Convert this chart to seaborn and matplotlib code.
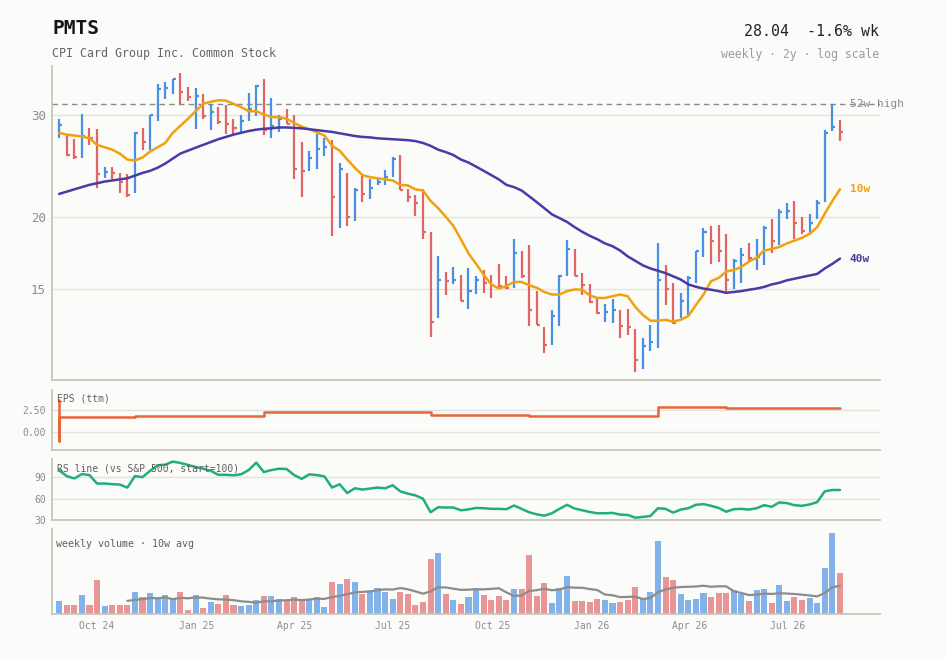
import matplotlib
matplotlib.use('Agg')
import matplotlib.pyplot as plt
import matplotlib.dates as mdates
import matplotlib.ticker as mticker
import numpy as np
import pandas as pd
import seaborn as sns

### Data (weekly bars) ###
first_week = '2024-08-27'
ticker = 'PMTS'
company = 'CPI Card Group Inc. Common Stock'

highs = [29.5, 27.7, 27.2, 30.1, 28.4, 28.3, 24.4, 24.4, 23.8, 23.7,
         28.0, 28.4, 30.0, 33.8, 34.1, 34.6, 35.3, 33.5, 33.3, 32.5,
         31.3, 30.9, 31.1, 29.5, 30.0, 32.7, 33.7, 34.5, 32.0, 30.0,
         30.7, 30.0, 26.9, 26.0, 27.8, 27.3, 27.1, 24.8, 23.8, 22.4,
         23.5, 23.2, 23.2, 24.1, 25.4, 25.6, 22.3, 21.8, 22.3, 18.8,
         17.1, 16.1, 16.4, 15.9, 16.3, 15.85, 16.2, 15.9, 16.6, 15.8,
         18.3, 17.5, 17.9, 14.9, 12.9, 13.8, 15.9, 18.25, 17.6, 16.0,
         15.3, 14.55, 14.15, 14.45, 13.8, 13.9, 12.8, 12.35, 13.05, 18.0,
         16.5, 15.4, 14.8, 15.8, 17.5, 19.1, 19.3, 19.4, 18.7, 16.9,
         17.7, 18.06, 18.3, 19.3, 19.8, 20.6, 21.1, 21.3, 20.0, 20.2,
         21.4, 28.2, 31.3, 29.4]

lows = [27.3, 25.5, 25.2, 25.3, 26.6, 22.4, 23.3, 23.2, 22.0, 21.6,
        22.0, 26.1, 26.1, 29.2, 31.9, 32.5, 31.3, 31.6, 28.3, 29.5,
        28.2, 28.9, 27.8, 27.8, 28.0, 29.2, 29.8, 27.7, 27.3, 28.0,
        28.9, 23.2, 21.6, 23.95, 24.2, 25.5, 18.5, 19.1, 19.3, 19.7,
        21.2, 21.5, 22.7, 22.7, 23.4, 22.2, 21.2, 20.1, 18.3, 12.4,
        13.4, 14.7, 15.3, 14.3, 13.9, 14.75, 14.8, 14.5, 15.1, 15.05,
        15.1, 15.7, 13.0, 13.05, 11.65, 12.05, 13.0, 15.8, 15.8, 14.7,
        14.2, 13.6, 13.2, 13.15, 12.35, 12.5, 10.8, 10.95, 11.75, 11.9,
        14.1, 13.1, 13.4, 13.55, 15.4, 17.05, 16.6, 16.75, 14.85, 15.0,
        15.4, 16.8, 16.2, 16.5, 17.3, 17.9, 19.8, 18.3, 18.7, 18.6,
        19.8, 21.2, 28.1, 27.0]

closes = [28.8, 25.6, 25.4, 27.6, 27.3, 23.7, 23.9, 23.8, 23.0, 21.8,
          27.9, 26.9, 29.9, 33.2, 33.3, 34.5, 32.8, 32.1, 32.3, 29.8,
          30.3, 29.1, 28.9, 28.4, 29.2, 30.7, 33.6, 28.2, 28.7, 29.5,
          28.9, 24.2, 24.0, 25.3, 26.2, 26.4, 21.6, 24.2, 20.0, 22.2,
          21.9, 22.4, 23.0, 23.4, 25.2, 22.2, 21.6, 21.1, 18.8, 13.2,
          15.6, 15.5, 15.6, 14.3, 14.9, 15.6, 15.4, 15.28, 15.2, 15.08,
          17.3, 15.8, 13.8, 13.05, 12.05, 13.5, 15.85, 17.6, 15.8, 15.25,
          14.25, 13.68, 13.74, 13.8, 13.0, 12.9, 11.35, 12.0, 12.2, 15.55,
          15.0, 13.15, 14.3, 15.7, 17.45, 18.8, 18.2, 17.44, 15.6, 16.76,
          17.2, 16.96, 17.06, 19.1, 18.2, 20.35, 20.45, 19.5, 18.9, 19.5,
          21.1, 27.9, 28.5, 28.04]

ma10 = [27.9, 27.7, 27.6, 27.5, 27.3, 26.6, 26.35, 26.1, 25.7, 25.1,
        25.0, 25.3, 25.9, 26.35, 26.8, 27.9, 28.7, 29.5, 30.4, 31.3,
        31.55, 31.75, 31.7, 31.3, 30.9, 30.4, 30.4, 30.0, 29.7, 29.7,
        29.5, 29.0, 28.6, 28.3, 27.96, 27.6, 26.5, 26.0, 25.1, 24.3,
        23.6, 23.4, 23.3, 23.2, 23.1, 22.7, 22.65, 22.3, 22.2, 21.3,
        20.7, 20.0, 19.3, 18.3, 17.3, 16.6, 15.9, 15.3, 15.05, 15.2,
        15.45, 15.45, 15.25, 15.1, 14.85, 14.7, 14.7, 14.9, 15.0, 14.98,
        14.65, 14.5, 14.5, 14.6, 14.7, 14.6, 14.0, 13.56, 13.25, 13.25,
        13.3, 13.2, 13.3, 13.5, 14.1, 14.7, 15.5, 15.7, 16.1, 16.2,
        16.4, 16.75, 17.0, 17.5, 17.6, 17.75, 18.0, 18.2, 18.4, 18.7,
        19.2, 20.25, 21.3, 22.3]

ma40 = [21.9, 22.1, 22.3, 22.5, 22.7, 22.85, 23.0, 23.1, 23.2, 23.3,
        23.55, 23.8, 24.0, 24.3, 24.7, 25.2, 25.7, 26.0, 26.3, 26.6,
        26.9, 27.2, 27.45, 27.7, 27.9, 28.1, 28.25, 28.35, 28.4, 28.5,
        28.5, 28.45, 28.4, 28.3, 28.2, 28.1, 28.0, 27.85, 27.7, 27.55,
        27.45, 27.4, 27.3, 27.25, 27.2, 27.15, 27.1, 27.0, 26.8, 26.5,
        26.1, 25.85, 25.55, 25.1, 24.8, 24.4, 24.0, 23.6, 23.2, 22.7,
        22.5, 22.2, 21.7, 21.2, 20.7, 20.2, 19.9, 19.6, 19.2, 18.85,
        18.55, 18.3, 18.0, 17.8, 17.5, 17.1, 16.8, 16.5, 16.3, 16.15,
        16.0, 15.8, 15.6, 15.3, 15.16, 15.05, 14.98, 14.9, 14.8, 14.85,
        14.9, 14.98, 15.05, 15.15, 15.3, 15.4, 15.55, 15.65, 15.75, 15.85,
        15.95, 16.3, 16.6, 16.95]

rs_line = [100, 91.9, 88.6, 94.7, 93.3, 81.4, 81.4, 80.5, 80.0, 75.7,
           91.9, 90.4, 99.4, 107.1, 108.0, 112.3, 110.4, 107.6, 104.7, 102.3,
           99.4, 93.7, 93.7, 93.0, 94.4, 100.4, 110.9, 97.6, 100.4, 102.3,
           101.9, 93.3, 88.0, 94.3, 93.3, 91.4, 75.7, 80.4, 68.0, 74.7,
           72.9, 74.3, 75.7, 74.7, 79.0, 70.4, 67.1, 64.7, 60.0, 40.9,
           48.0, 47.6, 47.6, 43.7, 45.0, 47.0, 46.6, 45.7, 45.7, 45.2,
           50.4, 45.7, 40.9, 38.0, 36.1, 39.5, 45.7, 51.4, 46.2, 43.7,
           41.3, 39.5, 39.5, 40.0, 37.6, 37.1, 33.3, 34.3, 35.7, 46.6,
           45.7, 40.4, 44.7, 46.6, 51.4, 52.4, 50.0, 47.0, 41.7, 45.2,
           45.7, 44.7, 46.6, 50.9, 48.6, 54.8, 53.8, 50.9, 50.0, 51.9,
           55.2, 70.4, 72.3, 72.3]

# weekly volume, thousands of shares
volume_k = [40, 28, 28, 58, 28, 103, 25, 28, 28, 28,
            67, 52, 64, 47, 58, 46, 67, 13, 58, 19,
            37, 31, 58, 28, 25, 28, 43, 55, 55, 46,
            43, 52, 43, 43, 52, 22, 97, 91, 106, 97,
            61, 67, 79, 67, 46, 67, 61, 28, 37, 166,
            184, 61, 43, 31, 52, 79, 58, 43, 55, 43,
            76, 76, 178, 55, 94, 34, 79, 115, 40, 40,
            37, 46, 43, 34, 37, 43, 82, 49, 67, 220,
            112, 103, 61, 43, 46, 64, 52, 64, 64, 73,
            61, 40, 73, 76, 34, 88, 40, 52, 43, 49,
            34, 139, 244, 124]

# EPS (ttm) change points: week index and value
eps_week = [0, 0, 0, 10, 27, 49, 62, 79, 88, 103]
eps_values = [3.62, -0.94, 1.75, 1.86, 2.27, 1.97, 1.86, 2.87, 2.72, 2.72]

price_ticks = [15, 20, 30]
eps_ticks = [0.0, 2.5]
rs_ticks = [30, 60, 90]

### Style ###
W, H = 946, 660
BG = '#fbfbf9'
UP = '#4a90e2'
DOWN = '#e06666'
MA10_C = '#f0a20e'
MA40_C = '#4b3aa6'
EPS_C = '#e8643a'
RS_C = '#1fae7c'
GRID_C = '#e3e3db'
SPINE_C = '#c6c6bb'
TICK_C = '#8c8c8c'
LABEL_C = '#5f5f5f'

sns.set_theme(style='white', rc={'axes.facecolor': BG, 'figure.facecolor': BG})
plt.rcParams['font.family'] = ['DejaVu Sans Mono']

dates = pd.date_range(first_week, periods=len(closes), freq='7D')
prev_close = pd.Series(closes).shift(1)
is_up = (pd.Series(closes) >= prev_close) | prev_close.isna()
bar_colors = np.where(is_up, UP, DOWN)
x_range = (dates[0] - pd.Timedelta(days=6.6), dates[0] + pd.Timedelta(days=758))

fig = plt.figure(figsize=(W / 100, H / 100), dpi=100)
fig.patch.set_facecolor(BG)


def panel(top, bottom):
    ax = fig.add_axes([52 / W, 1 - bottom / H, 828 / W, (bottom - top) / H])
    ax.set_facecolor(BG)
    for s in ['top', 'right']:
        ax.spines[s].set_visible(False)
    for s in ['left', 'bottom']:
        ax.spines[s].set_color(SPINE_C)
        ax.spines[s].set_linewidth(1.3)
    ax.tick_params(length=0, colors=TICK_C, labelsize=7, pad=4.5)
    return ax


ax_p = panel(66, 380)
ax_e = panel(390, 450)
ax_r = panel(459, 520)
ax_v = panel(529, 614)

### Price panel ###
ax_p.set_yscale('log')
ax_p.set_ylim(min(lows) * 0.97, max(highs) * 1.03)
ax_p.yaxis.set_major_locator(mticker.FixedLocator(price_ticks))
ax_p.yaxis.set_major_formatter(mticker.StrMethodFormatter('{x:.0f}'))
ax_p.yaxis.set_minor_locator(mticker.NullLocator())
ax_p.grid(axis='y', color=GRID_C, lw=1)
ax_p.tick_params(axis='y', labelsize=9)

hi52 = max(highs[-52:])
ax_p.axhline(hi52, color='#8a8a8a', lw=1, ls=(0, (4, 3)), zorder=1)

ax_p.vlines(dates, lows, highs, colors=bar_colors, lw=1.6, zorder=3)
ax_p.hlines(closes, dates, dates + pd.Timedelta(days=2.8), colors=bar_colors, lw=1.6, zorder=3)
sns.lineplot(x=dates, y=ma10, ax=ax_p, color=MA10_C, lw=1.8, zorder=4)
sns.lineplot(x=dates, y=ma40, ax=ax_p, color=MA40_C, lw=1.8, zorder=4)

for txt, val, col in [('10w', ma10[-1], MA10_C), ('40w', ma40[-1], MA40_C)]:
    ax_p.annotate(txt, xy=(dates[-1], val), xytext=(7, 0), textcoords='offset points',
                  va='center', ha='left', fontsize=8, color=col, fontweight='bold',
                  annotation_clip=False)
ax_p.annotate('52w high', xy=(dates[-1], hi52), xytext=(7, 0), textcoords='offset points',
              va='center', ha='left', fontsize=8, color='#8a8a8a', annotation_clip=False)
ax_p.tick_params(axis='x', labelbottom=False)

### EPS panel ###
eps_dates = dates[eps_week]
sns.lineplot(x=eps_dates, y=eps_values, ax=ax_e, color=EPS_C, lw=1.8,
             drawstyle='steps-post', estimator=None, sort=False)
ax_e.set_ylim(-2.0, 4.75)
ax_e.set_yticks(eps_ticks)
ax_e.yaxis.set_major_formatter(mticker.StrMethodFormatter('{x:.2f}'))
ax_e.grid(axis='y', color=GRID_C, lw=1)
ax_e.tick_params(axis='x', labelbottom=False)
ax_e.annotate('EPS (ttm)', xy=(0, 1), xycoords='axes fraction', xytext=(3.5, -6),
              textcoords='offset points', va='center', ha='left', fontsize=7, color=LABEL_C)

### RS panel ###
sns.lineplot(x=dates, y=rs_line, ax=ax_r, color=RS_C, lw=1.8)
ax_r.set_ylim(30, 116)
ax_r.set_yticks(rs_ticks)
ax_r.grid(axis='y', color=GRID_C, lw=1)
ax_r.tick_params(axis='x', labelbottom=False)
ax_r.annotate('RS line (vs S&P 500, start=100)', xy=(0, 1), xycoords='axes fraction',
              xytext=(3.5, -6.5), textcoords='offset points', va='center', ha='left',
              fontsize=7, color=LABEL_C)

### Volume panel ###
ax_v.bar(dates, volume_k, width=5.6, color=bar_colors, alpha=0.68, linewidth=0)
vol_avg = pd.Series(volume_k, index=dates).rolling(10).mean()
ax_v.plot(vol_avg.index, vol_avg.values, color='#8c8c8c', lw=1.6)
ax_v.set_ylim(0, max(volume_k) * 1.045)
ax_v.set_yticks([])
ax_v.xaxis.set_major_locator(mdates.MonthLocator(bymonth=[1, 4, 7, 10]))
ax_v.xaxis.set_major_formatter(mdates.DateFormatter('%b %y'))
ax_v.tick_params(axis='x', pad=5)
ax_v.annotate('weekly volume \u00b7 10w avg', xy=(0, 1), xycoords='axes fraction',
              xytext=(3, -11), textcoords='offset points', va='center', ha='left',
              fontsize=7.2, color=LABEL_C)

for ax in [ax_p, ax_e, ax_r, ax_v]:
    ax.set_xlim(*x_range)
    ax.set_xlabel('')
    ax.set_ylabel('')

### Header ###
last = closes[-1]
chg = (closes[-1] / closes[-2] - 1) * 100
fig.text(52 / W, 1 - 29 / H, ticker, fontsize=14, fontweight='bold', color='#151515',
         va='center', ha='left')
fig.text(52 / W, 1 - 53.5 / H, company, fontsize=8.4, color='#666666', va='center', ha='left')
fig.text(879 / W, 1 - 32 / H, f'{last:.2f}  {chg:+.1f}% wk', fontsize=10.7, color='#222222',
         va='center', ha='right')
fig.text(879 / W, 1 - 54.5 / H, 'weekly \u00b7 2y \u00b7 log scale', fontsize=8.3,
         color='#9a9a9a', va='center', ha='right')

fig.savefig('out.png', dpi=100, facecolor=BG)
